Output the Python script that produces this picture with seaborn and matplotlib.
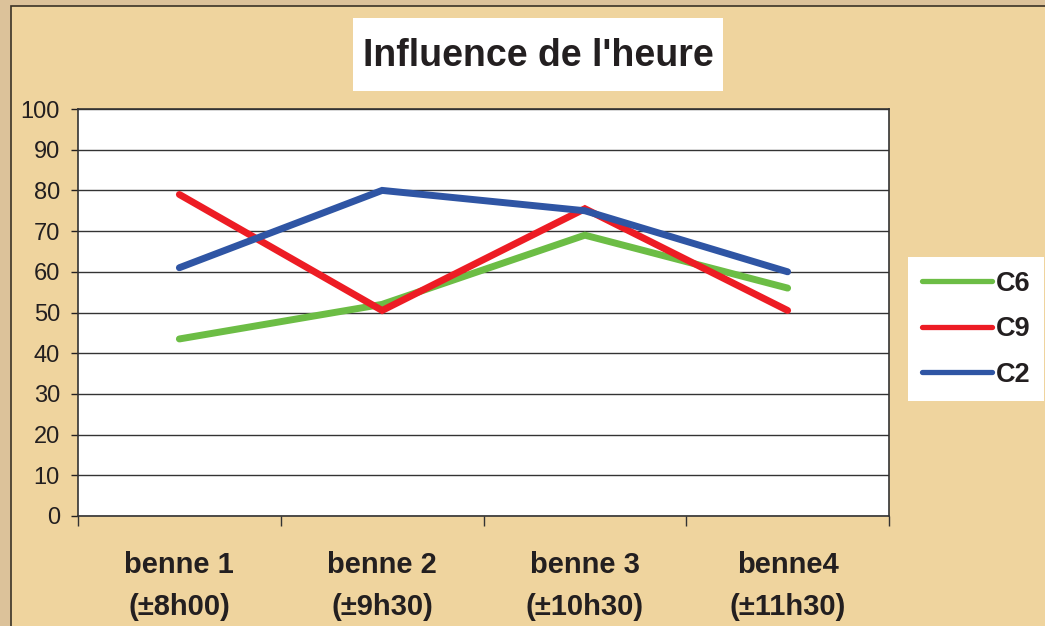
import pandas as pd
import numpy as np
import seaborn as sns
import matplotlib.pyplot as plt
from matplotlib.patches import Rectangle

# data
bennes = ["benne 1\n(±8h00)", "benne 2\n(±9h30)", "benne 3\n(±10h30)", "benne4\n(±11h30)"]
c6 = [43.5, 52, 69, 56]
c9 = [79, 50.5, 75.5, 50.5]
c2 = [61, 80, 75, 60]
series = ["C6", "C9", "C2"]
colors = ["#6cbd45", "#ed1c24", "#2f55a4"]

df = pd.DataFrame({"benne": list(range(4)) * 3,
                   "val": c6 + c9 + c2,
                   "serie": np.repeat(series, 4)})

plt.rcParams['font.family'] = ['Liberation Sans', 'DejaVu Sans']
W, H = 1045, 626
fig = plt.figure(figsize=(W / 100, H / 100), dpi=100)
fig.patch.set_facecolor("#dcc29a")

# parchment frame
fig.patches.append(Rectangle((11 / W, -0.1), 1.2, 1 - 6 / H + 0.1, transform=fig.transFigure,
                             facecolor="#efd49e", edgecolor="#3a3226", lw=1.2, zorder=-2))
# title box
fig.patches.append(Rectangle((353 / W, 1 - 91 / H), 370 / W, 73 / H, transform=fig.transFigure,
                             facecolor="white", edgecolor="none", zorder=-1))
fig.text(538 / W, 1 - 56 / H, "Influence de l'heure", ha="center", va="center",
         fontsize=27, fontweight="bold", color="#231f20")

ax = fig.add_axes([78 / W, 1 - 516 / H, 811 / W, 407 / H])
ax.set_zorder(2)
ax.set_facecolor("white")

sns.lineplot(data=df, x="benne", y="val", hue="serie", hue_order=series,
             palette=colors, lw=5, ax=ax, solid_capstyle="round", solid_joinstyle="miter")

ax.set_xlim(-0.5, 3.5)
ax.set_ylim(0, 100)
ax.set_yticks(range(0, 101, 10))
ax.yaxis.grid(True, color="#333333", lw=1)
ax.set_axisbelow(True)
ax.tick_params(axis="y", labelsize=17, colors="#231f20", length=5, width=1, pad=8)
ax.set_xticks(range(4))
ax.set_xticklabels(bennes, fontsize=21, fontweight="bold", color="#231f20", linespacing=1.65)
ax.tick_params(axis="x", length=0, pad=25)
ax.set_xticks(np.arange(-0.5, 4, 1), minor=True)
ax.tick_params(axis="x", which="minor", length=7, width=1, color="#333333")
for s in ax.spines.values():
    s.set_color("#333333")
    s.set_linewidth(1.2)
ax.set_xlabel("")
ax.set_ylabel("")

leg = ax.legend(loc="upper left", bbox_to_anchor=(908 / W, 1 - 257 / H), bbox_transform=fig.transFigure,
                frameon=True, fancybox=False, framealpha=1, edgecolor="none",
                prop={"size": 19.5, "weight": "bold"}, handlelength=2.6, handletextpad=0.15,
                labelspacing=0.72, borderpad=0.5, borderaxespad=0)
for ln in leg.get_lines():
    ln.set_linewidth(3.8)
for t in leg.get_texts():
    t.set_color("#231f20")

fig.savefig("out.png", dpi=100, facecolor=fig.get_facecolor())
